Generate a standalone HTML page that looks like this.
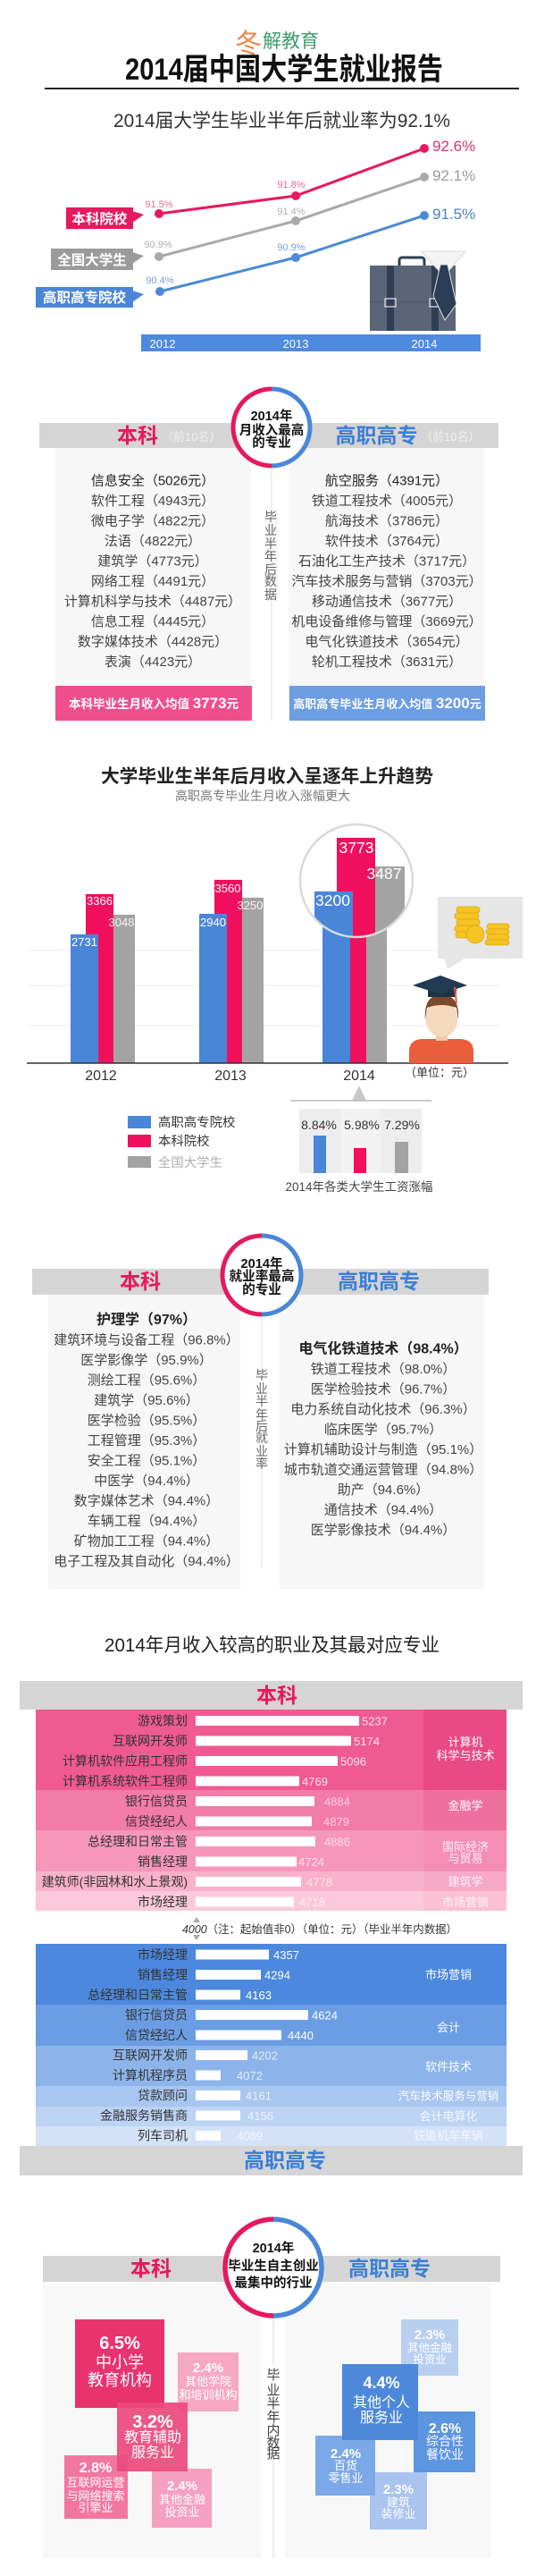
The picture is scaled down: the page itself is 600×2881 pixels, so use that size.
<!DOCTYPE html>
<html><head><meta charset="utf-8"><style>
html,body{margin:0;padding:0;background:#fff;}
svg{display:block;}
text{font-family:"Liberation Sans","Noto Sans CJK SC",sans-serif;}
</style></head><body>
<svg width="600" height="2881" viewBox="0 0 600 2881" xmlns="http://www.w3.org/2000/svg">
<defs>
<clipPath id="mag"><circle cx="399" cy="985" r="63"/></clipPath>
</defs>
<rect x="0" y="0" width="600" height="2881" fill="#fff"/>

<!-- ===== Header ===== -->
<text x="263" y="59" font-size="30" fill="#e8894a">冬</text>
<text x="294" y="53" font-size="21" fill="#3f9b6e">解教育</text>
<text x="318" y="89" font-size="34" font-weight="bold" text-anchor="middle" fill="#111" textLength="356" lengthAdjust="spacingAndGlyphs">2014届中国大学生就业报告</text>
<rect x="50" y="98" width="531" height="2" fill="#222"/>
<text x="315.5" y="142" font-size="21" text-anchor="middle" fill="#333" textLength="377" lengthAdjust="spacingAndGlyphs">2014届大学生毕业半年后就业率为92.1%</text>

<!-- line chart -->
<polyline points="178,239 331,219 475,166" stroke="#e8185c" stroke-width="3" fill="none"/>
<polyline points="178,287 331,247 475,198" stroke="#aaaaaa" stroke-width="3" fill="none"/>
<polyline points="179,326 331,288 475,241" stroke="#4a8ad8" stroke-width="3" fill="none"/>
<g fill="#e8185c"><circle cx="178" cy="239" r="5"/><circle cx="331" cy="219" r="5"/><circle cx="475" cy="166" r="5"/></g>
<g fill="#aaaaaa"><circle cx="178" cy="287" r="5"/><circle cx="331" cy="247" r="5"/><circle cx="475" cy="198" r="5"/></g>
<g fill="#4a8ad8"><circle cx="179" cy="326" r="5"/><circle cx="331" cy="288" r="5"/><circle cx="475" cy="241" r="5"/></g>
<g font-size="11" text-anchor="middle">
<text x="178" y="232" fill="#e0709a">91.5%</text>
<text x="326" y="210" fill="#e0709a">91.8%</text>
<text x="326" y="240" fill="#b0b0b0">91.4%</text>
<text x="177" y="277" fill="#b0b0b0">90.9%</text>
<text x="326" y="280" fill="#7d9dd0">90.9%</text>
<text x="179" y="317" fill="#7d9dd0">90.4%</text>
</g>
<g font-size="17">
<text x="484" y="169" fill="#d9336b">92.6%</text>
<text x="484" y="202" fill="#9a9a9a">92.1%</text>
<text x="484" y="245" fill="#4a7fc8">91.5%</text>
</g>
<!-- tags -->
<rect x="74" y="232" width="75" height="24" fill="#e5195e"/>
<polygon points="148,236 161,240 148,249" fill="#e5195e"/>
<text x="111.5" y="250" font-size="15.5" font-weight="bold" fill="#fff" text-anchor="middle">本科院校</text>
<rect x="57" y="278" width="92" height="24" fill="#9b9b9b"/>
<polygon points="148,282 161,286 148,295" fill="#9b9b9b"/>
<text x="103" y="296" font-size="15.5" font-weight="bold" fill="#fff" text-anchor="middle">全国大学生</text>
<rect x="40" y="321" width="109" height="23" fill="#4a86d8"/>
<polygon points="148,325 161,329 148,338" fill="#4a86d8"/>
<text x="94.5" y="338" font-size="15.5" font-weight="bold" fill="#fff" text-anchor="middle">高职高专院校</text>
<!-- axis bar -->
<rect x="158" y="374" width="380" height="19" fill="#4d8ae0"/>
<g font-size="13" fill="#fff" text-anchor="middle">
<text x="182" y="389">2012</text><text x="331" y="389">2013</text><text x="475" y="389">2014</text>
</g>
<!-- briefcase -->
<rect x="447" y="288" width="28" height="12" rx="3" fill="none" stroke="#2e3f52" stroke-width="3"/>
<rect x="414" y="297" width="96" height="73" fill="#5a6677"/>
<line x1="414" y1="338" x2="510" y2="338" stroke="#4c5868" stroke-width="1"/>
<rect x="433" y="297" width="8" height="73" fill="#2e3e55"/>
<rect x="483" y="297" width="8" height="73" fill="#2e3e55"/>
<rect x="431" y="334" width="12" height="9" fill="none" stroke="#e8e8e8" stroke-width="1.2"/>
<rect x="481" y="334" width="12" height="9" fill="none" stroke="#e8e8e8" stroke-width="1.2"/>
<polygon points="471,281 521,281 497,309" fill="#f4f4f4" stroke="#dcdcdc" stroke-width="1"/>
<polygon points="493,296 501,296 511,340 498,358 485,331" fill="#2c3e55" stroke="#e0e0e0" stroke-width="1"/>

<!-- ===== Section 2: income majors ===== -->
<rect x="62" y="501" width="219" height="305" fill="#f7f7f7"/>
<rect x="323" y="501" width="219" height="305" fill="#f7f7f7"/>
<rect x="44" y="473" width="514" height="28" fill="#d5d5d5"/>
<text x="154" y="495" font-size="23" font-weight="bold" fill="#e5195e" text-anchor="middle">本科</text>
<text x="181" y="493" font-size="13" fill="#efefef">（前10名）</text>
<text x="421.5" y="495" font-size="23" font-weight="bold" fill="#3c7fd6" text-anchor="middle">高职高专</text>
<text x="471" y="493" font-size="13" fill="#efefef">（前10名）</text>
<line x1="304" y1="521" x2="304" y2="806" stroke="#dedede" stroke-width="1"/>
<circle cx="304" cy="478" r="43" fill="#fff"/>
<path d="M304,435 A43,43 0 0,0 304,521" fill="none" stroke="#e5195e" stroke-width="5"/>
<path d="M304,435 A43,43 0 0,1 304,521" fill="none" stroke="#4a86d8" stroke-width="5"/>
<g font-size="14.5" font-weight="bold" fill="#111" text-anchor="middle">
<text x="304" y="470">2014年</text><text x="304" y="486">月收入最高</text><text x="304" y="500">的专业</text>
</g>
<g font-size="14" fill="#666" text-anchor="middle">
<rect x="297" y="569" width="14" height="104" fill="#f7f7f7"/>
<text x="303" y="583">毕</text><text x="303" y="598">业</text><text x="303" y="613">半</text><text x="303" y="627">年</text><text x="303" y="642">后</text><text x="303" y="655">数</text><text x="303" y="670">据</text>
</g>
<g font-size="15" fill="#444" text-anchor="middle">
<text x="171" y="542.5" fill="#222">信息安全（5026元）</text>
<text x="171" y="565">软件工程（4943元）</text>
<text x="171" y="587.5">微电子学（4822元）</text>
<text x="171" y="610">法语（4822元）</text>
<text x="171" y="632.5">建筑学（4773元）</text>
<text x="171" y="655">网络工程（4491元）</text>
<text x="171" y="677.5">计算机科学与技术（4487元）</text>
<text x="171" y="700">信息工程（4445元）</text>
<text x="171" y="722.5">数字媒体技术（4428元）</text>
<text x="171" y="745">表演（4423元）</text>
<text x="433" y="542.5" fill="#222">航空服务（4391元）</text>
<text x="433" y="565">铁道工程技术（4005元）</text>
<text x="433" y="587.5">航海技术（3786元）</text>
<text x="433" y="610">软件技术（3764元）</text>
<text x="433" y="632.5">石油化工生产技术（3717元）</text>
<text x="433" y="655">汽车技术服务与营销（3703元）</text>
<text x="433" y="677.5">移动通信技术（3677元）</text>
<text x="433" y="700">机电设备维修与管理（3669元）</text>
<text x="433" y="722.5">电气化铁道技术（3654元）</text>
<text x="433" y="745">轮机工程技术（3631元）</text>
</g>
<rect x="62" y="767" width="220" height="39" fill="#ee4f8c"/>
<rect x="324" y="767" width="219" height="39" fill="#6d9de3"/>
<text x="172" y="792" font-weight="bold" fill="#fff" text-anchor="middle"><tspan font-size="13.5">本科毕业生月收入均值 </tspan><tspan font-size="17">3773</tspan><tspan font-size="13.5">元</tspan></text>
<text x="433.5" y="792" font-weight="bold" fill="#fff" text-anchor="middle"><tspan font-size="13">高职高专毕业生月收入均值 </tspan><tspan font-size="17">3200</tspan><tspan font-size="13">元</tspan></text>

<!-- ===== Section 3: bar chart ===== -->
<text x="299" y="875" font-size="20.7" font-weight="bold" fill="#222" text-anchor="middle" textLength="372" lengthAdjust="spacingAndGlyphs">大学毕业生半年后月收入呈逐年上升趋势</text>
<text x="294" y="895" font-size="14" fill="#777" text-anchor="middle">高职高专毕业生月收入涨幅更大</text>
<g stroke="#eeeeee" stroke-width="1">
<line x1="30" y1="1063" x2="560" y2="1063"/><line x1="30" y1="1102" x2="560" y2="1102"/><line x1="30" y1="1147" x2="560" y2="1147"/>
</g>
<!-- 2012 -->
<rect x="121" y="1023" width="30" height="166" fill="#a3a3a3"/>
<rect x="96" y="1000" width="31" height="189" fill="#f0105e"/>
<rect x="79" y="1045" width="31" height="144" fill="#4a86d8"/>
<!-- 2013 -->
<rect x="265" y="1004" width="30" height="185" fill="#a3a3a3"/>
<rect x="240" y="984" width="31" height="205" fill="#f0105e"/>
<rect x="223" y="1022" width="31" height="167" fill="#4a86d8"/>
<!-- 2014 normal -->
<rect x="402" y="991" width="31" height="198" fill="#a3a3a3"/>
<rect x="379" y="971" width="31" height="218" fill="#f0105e"/>
<rect x="361" y="1012" width="31" height="177" fill="#4a86d8"/>
<g font-size="13" fill="#fff" text-anchor="middle">
<text x="94.5" y="1058">2731</text><text x="111.5" y="1012">3366</text><text x="136" y="1036" fill="#f4f4f4">3048</text>
<text x="238.5" y="1036">2940</text><text x="255" y="998">3560</text><text x="280" y="1017" fill="#f4f4f4">3250</text>
</g>
<!-- magnifier -->
<circle cx="399" cy="985" r="63" fill="#fff"/>
<g clip-path="url(#mag)">
<line x1="330" y1="1063" x2="470" y2="1063" stroke="#eee"/>
<rect x="411" y="969" width="42" height="140" fill="#a3a3a3"/>
<rect x="377" y="937" width="43" height="172" fill="#f0105e"/>
<rect x="352" y="997" width="43" height="112" fill="#4a86d8"/>
</g>
<g font-size="17.5" fill="#fff" text-anchor="middle">
<text x="399" y="954">3773</text><text x="372.5" y="1013">3200</text><text x="430" y="983">3487</text>
</g>
<circle cx="399" cy="985" r="63" fill="none" stroke="#dadada" stroke-width="2.5"/>
<line x1="30" y1="1189" x2="569" y2="1189" stroke="#333" stroke-width="1.5"/>
<g font-size="16" fill="#333" text-anchor="middle">
<text x="113" y="1208">2012</text><text x="258" y="1208">2013</text><text x="402" y="1208">2014</text>
</g>
<text x="492" y="1204" font-size="13" fill="#333" text-anchor="middle">（单位：元）</text>
<!-- coins card -->
<rect x="490" y="1003" width="95" height="69" fill="#e6e6e6"/>
<polygon points="497,1072 520,1072 501,1084" fill="#e6e6e6"/>
<g fill="#f5c325" stroke="#e0a90e" stroke-width="0.8">
<rect x="511" y="1014" width="26" height="7" rx="3"/>
<rect x="509" y="1021" width="27" height="7" rx="3"/>
<rect x="511" y="1028" width="26" height="7" rx="3"/>
<rect x="509" y="1035" width="28" height="7" rx="3"/>
<rect x="510" y="1042" width="27" height="7" rx="3"/>
<rect x="545" y="1033" width="25" height="6" rx="3"/>
<rect x="544" y="1039" width="26" height="6" rx="3"/>
<rect x="545" y="1045" width="25" height="6" rx="3"/>
<rect x="543" y="1051" width="27" height="6" rx="3"/>
<circle cx="532" cy="1045" r="10"/>
</g>
<!-- person -->
<path d="M458,1189 L458,1176 Q458,1163 472,1162 L516,1162 Q530,1163 530,1176 L530,1189 Z" fill="#e95d3a"/>
<rect x="488" y="1151" width="13" height="13" fill="#eec7a4"/>
<ellipse cx="494.5" cy="1139" rx="18" ry="21" fill="#f6d8bd"/>
<path d="M476,1140 Q474,1113 494,1112 Q515,1113 513,1140 L511,1127 Q494,1121 478,1127 Z" fill="#7a4a2b"/>
<rect x="479" y="1102" width="32" height="13" fill="#1e3247"/>
<polygon points="462,1102 493,1091 523,1102 493,1112" fill="#223a52"/>
<line x1="509" y1="1104" x2="511" y2="1122" stroke="#e8603a" stroke-width="2"/>

<!-- inset -->
<polygon points="394,1231 410,1231 402,1214" fill="#c8c8c8"/>
<line x1="325" y1="1231" x2="483" y2="1231" stroke="#bbb" stroke-width="1.5"/>
<rect x="335" y="1240" width="137" height="72" fill="#ededed"/>
<rect x="382" y="1240" width="44" height="72" fill="#f2f2f2"/>
<rect x="351" y="1270" width="14" height="42" fill="#4a86d8"/>
<rect x="396" y="1284" width="14" height="28" fill="#f0105e"/>
<rect x="442" y="1277" width="15" height="35" fill="#a3a3a3"/>
<g font-size="14" fill="#333" text-anchor="middle">
<text x="357" y="1263">8.84%</text><text x="405" y="1263">5.98%</text><text x="450" y="1263">7.29%</text>
</g>
<text x="402" y="1332" font-size="13.5" fill="#444" text-anchor="middle">2014年各类大学生工资涨幅</text>
<rect x="143" y="1248" width="26" height="14" fill="#4a86d8"/>
<rect x="143" y="1269" width="26" height="14" fill="#f0105e"/>
<rect x="143" y="1293" width="26" height="13" fill="#a3a3a3"/>
<g font-size="14.4">
<text x="177" y="1260" fill="#333">高职高专院校</text>
<text x="177" y="1281" fill="#333">本科院校</text>
<text x="177" y="1305" fill="#b0b0b0">全国大学生</text>
</g>

<!-- ===== Section 4: employment rate majors ===== -->
<rect x="54" y="1448" width="215" height="329" fill="#f7f7f7"/>
<rect x="313" y="1448" width="229" height="329" fill="#f7f7f7"/>
<rect x="36" y="1419" width="511" height="29" fill="#d5d5d5"/>
<text x="157" y="1441" font-size="23" font-weight="bold" fill="#e5195e" text-anchor="middle">本科</text>
<text x="424" y="1441" font-size="23" font-weight="bold" fill="#3c7fd6" text-anchor="middle">高职高专</text>
<line x1="293" y1="1470" x2="293" y2="1753" stroke="#dedede" stroke-width="1"/>
<circle cx="293" cy="1426" r="44" fill="#fff"/>
<path d="M293,1382 A44,44 0 0,0 293,1470" fill="none" stroke="#e5195e" stroke-width="5"/>
<path d="M293,1382 A44,44 0 0,1 293,1470" fill="none" stroke="#4a86d8" stroke-width="5"/>
<g font-size="14.6" font-weight="bold" fill="#111" text-anchor="middle">
<text x="293" y="1418">2014年</text><text x="293" y="1432">就业率最高</text><text x="293" y="1447">的专业</text>
</g>
<rect x="286" y="1530" width="14" height="115" fill="#fff"/>
<g font-size="14" fill="#666" text-anchor="middle">
<text x="293" y="1543">毕</text><text x="293" y="1558">业</text><text x="293" y="1572">半</text><text x="293" y="1587">年</text><text x="293" y="1600">后</text><text x="293" y="1613">就</text><text x="293" y="1628">业</text><text x="293" y="1642">率</text>
</g>
<g font-size="15" fill="#444" text-anchor="middle">
<text x="164" y="1481" font-size="16" font-weight="bold" fill="#222">护理学（97%）</text>
<text x="164" y="1503.5">建筑环境与设备工程（96.8%）</text>
<text x="164" y="1526">医学影像学（95.9%）</text>
<text x="164" y="1548.5">测绘工程（95.6%）</text>
<text x="164" y="1571">建筑学（95.6%）</text>
<text x="164" y="1593.5">医学检验（95.5%）</text>
<text x="164" y="1616">工程管理（95.3%）</text>
<text x="164" y="1638.5">安全工程（95.1%）</text>
<text x="164" y="1661">中医学（94.4%）</text>
<text x="164" y="1683.5">数字媒体艺术（94.4%）</text>
<text x="164" y="1706">车辆工程（94.4%）</text>
<text x="164" y="1728.5">矿物加工工程（94.4%）</text>
<text x="164" y="1751">电子工程及其自动化（94.4%）</text>
<text x="429" y="1513.5" font-size="16" font-weight="bold" fill="#222">电气化铁道技术（98.4%）</text>
<text x="429" y="1536">铁道工程技术（98.0%）</text>
<text x="429" y="1558.5">医学检验技术（96.7%）</text>
<text x="429" y="1581">电力系统自动化技术（96.3%）</text>
<text x="429" y="1603.5">临床医学（95.7%）</text>
<text x="429" y="1626">计算机辅助设计与制造（95.1%）</text>
<text x="429" y="1648.5">城市轨道交通运营管理（94.8%）</text>
<text x="429" y="1671">助产（94.6%）</text>
<text x="429" y="1693.5">通信技术（94.4%）</text>
<text x="429" y="1716">医学影像技术（94.4%）</text>
</g>

<!-- ===== Section 5: occupations ===== -->
<text x="304.5" y="1847" font-size="21" fill="#222" text-anchor="middle" textLength="375" lengthAdjust="spacingAndGlyphs">2014年月收入较高的职业及其最对应专业</text>
<rect x="22" y="1880" width="563" height="32" fill="#d5d5d5"/>
<text x="310" y="1904" font-size="23" font-weight="bold" fill="#e5195e" text-anchor="middle">本科</text>
<!-- pink groups -->
<rect x="40" y="1912" width="527" height="90" fill="#ef5a90"/>
<rect x="474" y="1912" width="93" height="90" fill="#e94a84"/>
<rect x="40" y="2002" width="527" height="45" fill="#f37ba7"/>
<rect x="474" y="2002" width="93" height="45" fill="#f0709d"/>
<rect x="40" y="2047" width="527" height="46" fill="#f697ba"/>
<rect x="474" y="2047" width="93" height="46" fill="#f48eb3"/>
<rect x="40" y="2093" width="527" height="22" fill="#f9b2cb"/>
<rect x="474" y="2093" width="93" height="22" fill="#f7aac6"/>
<rect x="40" y="2115" width="527" height="22" fill="#fbc9db"/>
<rect x="474" y="2115" width="93" height="22" fill="#fac1d5"/>
<g font-size="14" fill="#333" text-anchor="end">
<text x="210" y="1929.5">游戏策划</text>
<text x="210" y="1952">互联网开发师</text>
<text x="210" y="1974.5">计算机软件应用工程师</text>
<text x="210" y="1997">计算机系统软件工程师</text>
<text x="210" y="2019.5">银行信贷员</text>
<text x="210" y="2042">信贷经纪人</text>
<text x="210" y="2064.5">总经理和日常主管</text>
<text x="210" y="2087">销售经理</text>
<text x="210" y="2109.5">建筑师(非园林和水上景观)</text>
<text x="210" y="2132">市场经理</text>
</g>
<g fill="#fff">
<rect x="219" y="1919" width="183" height="11"/>
<rect x="219" y="1941.5" width="174" height="11"/>
<rect x="219" y="1964" width="159" height="11"/>
<rect x="219" y="1986.5" width="116" height="11"/>
<rect x="219" y="2009" width="133" height="11"/>
<rect x="219" y="2031.5" width="130" height="11"/>
<rect x="219" y="2054" width="134" height="11"/>
<rect x="219" y="2076.5" width="113" height="11"/>
<rect x="219" y="2099" width="118" height="11"/>
<rect x="219" y="2121.5" width="110" height="11"/>
</g>
<g font-size="13">
<text x="405" y="1929.5" fill="#ffe4ee">5237</text>
<text x="396" y="1952" fill="#ffe4ee">5174</text>
<text x="381" y="1974.5" fill="#ffe4ee">5096</text>
<text x="338" y="1997" fill="#ffe4ee">4769</text>
<text x="363" y="2019.5" fill="#ffd2e2">4884</text>
<text x="362" y="2042" fill="#ffd2e2">4879</text>
<text x="363" y="2064.5" fill="#ffdbe8">4886</text>
<text x="334" y="2087" fill="#ffdbe8">4724</text>
<text x="343" y="2109.5" fill="#ffe4ee">4778</text>
<text x="335" y="2132" fill="#ffeef4">4718</text>
</g>
<g font-size="13" fill="#fff" text-anchor="middle">
<text x="521" y="1953">计算机</text><text x="521" y="1968">科学与技术</text>
<text x="521" y="2024">金融学</text>
<text x="521" y="2070" fill="#fff4f8">国际经济</text><text x="521" y="2083" fill="#fff4f8">与贸易</text>
<text x="521" y="2109" fill="#fff4f8">建筑学</text>
<text x="521" y="2132" fill="#fff4f8">市场营销</text>
</g>
<!-- axis note -->
<polygon points="216,2150 224,2150 220,2144" fill="#aaa"/>
<polygon points="216,2164 224,2164 220,2170" fill="#aaa"/>
<text x="204" y="2162" font-size="12.5" fill="#333" textLength="308" lengthAdjust="spacingAndGlyphs"><tspan font-style="italic">4000</tspan>（注：起始值非0）（单位：元）（毕业半年内数据）</text>
<!-- blue groups -->
<rect x="40" y="2174" width="527" height="68" fill="#4c88dd"/>
<rect x="40" y="2242" width="527" height="46" fill="#6b9de4"/>
<rect x="40" y="2288" width="527" height="45" fill="#8db4ea"/>
<rect x="40" y="2333" width="527" height="23" fill="#a8c6ef"/>
<rect x="40" y="2356" width="527" height="22" fill="#bcd3f3"/>
<rect x="40" y="2378" width="527" height="22" fill="#d3e2f7"/>
<g font-size="14" fill="#333" text-anchor="end">
<text x="210" y="2191">市场经理</text>
<text x="210" y="2213.5">销售经理</text>
<text x="210" y="2236">总经理和日常主管</text>
<text x="210" y="2258.5">银行信贷员</text>
<text x="210" y="2281">信贷经纪人</text>
<text x="210" y="2303.5">互联网开发师</text>
<text x="210" y="2326">计算机程序员</text>
<text x="210" y="2348.5">贷款顾问</text>
<text x="210" y="2371">金融服务销售商</text>
<text x="210" y="2393.5">列车司机</text>
</g>
<g fill="#fff">
<rect x="219" y="2180.5" width="82" height="11"/>
<rect x="219" y="2203" width="73" height="11"/>
<rect x="219" y="2225.5" width="50" height="11"/>
<rect x="219" y="2248" width="126" height="11"/>
<rect x="219" y="2270.5" width="96" height="11"/>
<rect x="219" y="2293" width="58" height="11"/>
<rect x="219" y="2315.5" width="28" height="11"/>
<rect x="219" y="2338" width="50" height="11"/>
<rect x="219" y="2360.5" width="50" height="11"/>
<rect x="219" y="2383" width="28" height="11"/>
</g>
<g font-size="13">
<text x="306" y="2191" fill="#fff">4357</text>
<text x="296" y="2213.5" fill="#fff">4294</text>
<text x="275" y="2236" fill="#fff">4163</text>
<text x="349" y="2258.5" fill="#fff">4624</text>
<text x="322" y="2281" fill="#fff">4440</text>
<text x="282" y="2303.5" fill="#e3edfa">4202</text>
<text x="265" y="2326" fill="#e3edfa">4072</text>
<text x="275" y="2348.5" fill="#eaf1fb">4161</text>
<text x="277" y="2371" fill="#eef4fc">4156</text>
<text x="265" y="2393.5" fill="#f2f7fd">4089</text>
</g>
<g font-size="13" fill="#fff" text-anchor="middle">
<text x="502" y="2213">市场营销</text>
<text x="502" y="2272">会计</text>
<text x="502" y="2316">软件技术</text>
<text x="502" y="2348.5" font-size="12.5">汽车技术服务与营销</text>
<text x="502" y="2371.5" fill="#f4f8fe">会计电算化</text>
<text x="502" y="2393" fill="#f4f8fe">铁道机车车辆</text>
</g>
<rect x="22" y="2400" width="563" height="33" fill="#d5d5d5"/>
<text x="319" y="2424" font-size="23" font-weight="bold" fill="#3c7fd6" text-anchor="middle">高职高专</text>

<!-- ===== Section 6: startups ===== -->
<rect x="48" y="2552" width="244" height="309" fill="#f8f8f8"/>
<rect x="319" y="2552" width="231" height="309" fill="#f8f8f8"/>
<rect x="48" y="2523" width="512" height="29" fill="#d5d5d5"/>
<text x="169" y="2545" font-size="23" font-weight="bold" fill="#e5195e" text-anchor="middle">本科</text>
<text x="436" y="2545" font-size="23" font-weight="bold" fill="#3c7fd6" text-anchor="middle">高职高专</text>
<line x1="306" y1="2591" x2="306" y2="2861" stroke="#dedede" stroke-width="1"/>
<circle cx="306" cy="2536" r="54" fill="#fff"/>
<path d="M306,2482 A54,54 0 0,0 306,2590" fill="none" stroke="#e5195e" stroke-width="5.5"/>
<path d="M306,2482 A54,54 0 0,1 306,2590" fill="none" stroke="#4a86d8" stroke-width="5.5"/>
<g font-size="14.5" font-weight="bold" fill="#111" text-anchor="middle">
<text x="306" y="2519">2014年</text><text x="306" y="2539">毕业生自主创业</text><text x="306" y="2558">最集中的行业</text>
</g>
<rect x="299" y="2645" width="14" height="106" fill="#fff"/>
<g font-size="15" fill="#444" text-anchor="middle">
<text x="306" y="2661">毕</text><text x="306" y="2678">业</text><text x="306" y="2693">半</text><text x="306" y="2708">年</text><text x="306" y="2723">内</text><text x="306" y="2737">数</text><text x="306" y="2749">据</text>
</g>
<!-- left boxes -->
<rect x="84" y="2594" width="100" height="99" fill="#e8336f"/>
<rect x="199" y="2631" width="68" height="66" fill="#f6a8c3"/>
<rect x="72" y="2746" width="71" height="71" fill="#f0709b" opacity="0.95"/>
<rect x="170" y="2761" width="67" height="66" fill="#f5a0bf"/>
<rect x="131" y="2687" width="79" height="77" fill="#ec4a7e" opacity="0.93"/>
<g fill="#fff" text-anchor="middle" font-weight="bold">
<text x="134" y="2627" font-size="20">6.5%</text>
<text x="134" y="2648" font-size="18" font-weight="normal">中小学</text>
<text x="134" y="2668" font-size="18" font-weight="normal">教育机构</text>
<text x="233" y="2653" font-size="15">2.4%</text>
<text x="233" y="2668" font-size="13" font-weight="normal">其他学院</text>
<text x="233" y="2683" font-size="13" font-weight="normal">和培训机构</text>
<text x="171" y="2715" font-size="20">3.2%</text>
<text x="171" y="2731" font-size="16" font-weight="normal">教育辅助</text>
<text x="171" y="2748" font-size="16" font-weight="normal">服务业</text>
<text x="107" y="2765" font-size="16">2.8%</text>
<text x="107" y="2781" font-size="13" font-weight="normal">互联网运营</text>
<text x="107" y="2796" font-size="13" font-weight="normal">与网络搜索</text>
<text x="107" y="2809" font-size="13" font-weight="normal">引擎业</text>
<text x="204" y="2785" font-size="15">2.4%</text>
<text x="204" y="2800" font-size="13" font-weight="normal">其他金融</text>
<text x="204" y="2814" font-size="13" font-weight="normal">投资业</text>
</g>
<!-- right boxes -->
<rect x="449" y="2594" width="64" height="63" fill="#b9cff0"/>
<rect x="414" y="2765" width="64" height="64" fill="#a8c4ef"/>
<rect x="353" y="2724" width="67" height="67" fill="#7ba8e6"/>
<rect x="463" y="2697" width="69" height="68" fill="#5c95e0"/>
<rect x="383" y="2644" width="85" height="85" fill="#4d88da"/>
<g fill="#fff" text-anchor="middle" font-weight="bold">
<text x="481" y="2616" font-size="15">2.3%</text>
<text x="481" y="2630" font-size="12.5" font-weight="normal">其他金融</text>
<text x="481" y="2643" font-size="12.5" font-weight="normal">投资业</text>
<text x="427" y="2671" font-size="18">4.4%</text>
<text x="427" y="2692" font-size="16" font-weight="normal">其他个人</text>
<text x="427" y="2709" font-size="16" font-weight="normal">服务业</text>
<text x="498" y="2721" font-size="16">2.6%</text>
<text x="498" y="2735" font-size="14" font-weight="normal">综合性</text>
<text x="498" y="2750" font-size="14" font-weight="normal">餐饮业</text>
<text x="387" y="2749" font-size="15">2.4%</text>
<text x="387" y="2762" font-size="13" font-weight="normal">百货</text>
<text x="387" y="2776" font-size="13" font-weight="normal">零售业</text>
<text x="446" y="2789" font-size="15">2.3%</text>
<text x="446" y="2803" font-size="13" font-weight="normal">建筑</text>
<text x="446" y="2816" font-size="13" font-weight="normal">装修业</text>
</g>
</svg>
</body></html>
